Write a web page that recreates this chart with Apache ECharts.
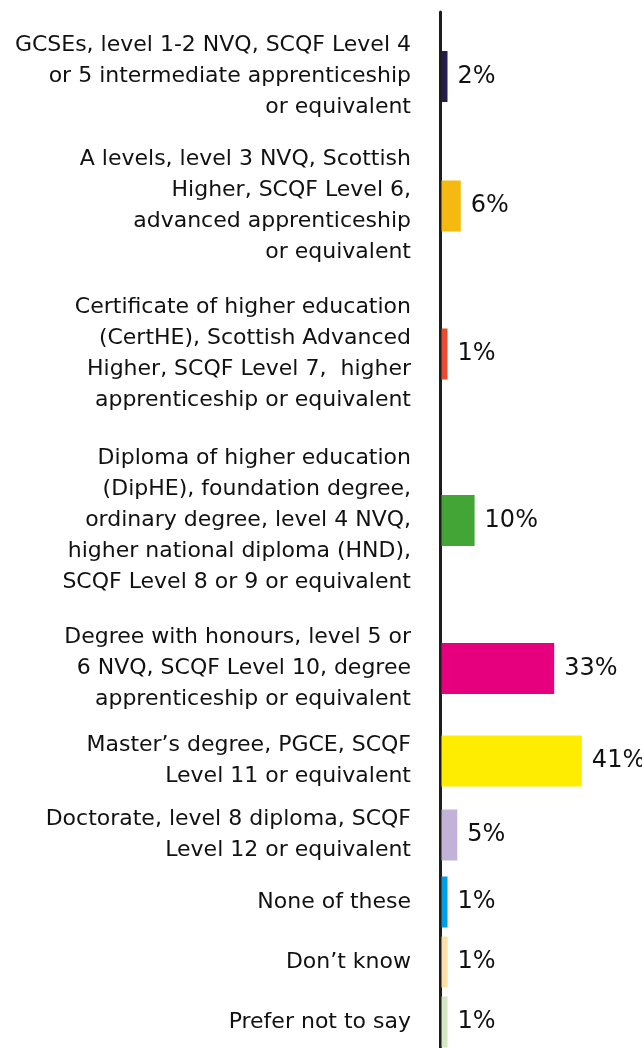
<!DOCTYPE html>
<html>
<head>
<meta charset="utf-8">
<script src="https://cdn.jsdelivr.net/npm/echarts@6/dist/echarts.min.js"></script>
<style>
  html, body { margin: 0; padding: 0; background: #fff; }
  #chart { width: 642px; height: 1048px; }
</style>
</head>
<body>
<div id="chart"></div>
<script>
// categories (line breaks as in the picture)
var categories = [
  'GCSEs, level 1-2 NVQ, SCQF Level 4\nor 5 intermediate apprenticeship\nor equivalent',
  'A levels, level 3 NVQ, Scottish\nHigher, SCQF Level 6,\nadvanced apprenticeship\nor equivalent',
  'Certificate of higher education\n(CertHE), Scottish Advanced\nHigher, SCQF Level 7,  higher\napprenticeship or equivalent',
  'Diploma of higher education\n(DipHE), foundation degree,\nordinary degree, level 4 NVQ,\nhigher national diploma (HND),\nSCQF Level 8 or 9 or equivalent',
  'Degree with honours, level 5 or\n6 NVQ, SCQF Level 10, degree\napprenticeship or equivalent',
  'Master\u2019s degree, PGCE, SCQF\nLevel 11 or equivalent',
  'Doctorate, level 8 diploma, SCQF\nLevel 12 or equivalent',
  'None of these',
  'Don\u2019t know',
  'Prefer not to say'
];
var values = [2, 6, 1, 10, 33, 41, 5, 1, 1, 1];
var colors = ['#241d4a', '#f6b90f', '#e94b30', '#42a535', '#e6007e',
              '#ffed00', '#c2b2d7', '#009fe3', '#fde0a8', '#d5e6c5'];

// each row gets room for its label lines
var rowUnit = 37, rowMin = 60;
var centres = [];
var acc = 0;
categories.forEach(function (c) {
  var h = Math.max(c.split('\n').length * rowUnit, rowMin);
  centres.push(acc + h / 2);
  acc += h;
});

var chart = echarts.init(document.getElementById('chart'));

var option = {
  animation: false,
  grid: { left: 440, top: 12, width: 173, height: 1036 },
  xAxis: { type: 'value', min: 0, max: 50, show: false },
  yAxis: {
    type: 'value',
    min: -9,
    max: 1027,
    inverse: true,
    axisLine: { show: true, lineStyle: { color: '#1d1d1b', width: 3 } },
    axisTick: { show: false },
    axisLabel: { show: false },
    splitLine: { show: false }
  },
  series: [{
    type: 'custom',
    data: values.map(function (v, i) { return [v, centres[i], i]; }),
    encode: { x: 0, y: 1 },
    renderItem: function (params, api) {
      var i = api.value(2);
      var start = api.coord([0, api.value(1)]);
      var end = api.coord([api.value(0), api.value(1)]);
      var h = 51;
      // small bars still get a visible stub, like barMinHeight
      var w = Math.max(end[0] - start[0] - 1.5, 6);
      var right = start[0] + 1.5 + w;
      return {
        type: 'group',
        children: [
          {
            type: 'rect',
            shape: { x: start[0] + 1.5, y: start[1] - h / 2, width: w, height: h },
            style: { fill: colors[i] }
          },
          {
            type: 'text',
            x: right + 10,
            y: end[1],
            style: {
              text: values[i] + '%',
              fill: '#111111',
              fontSize: 24,
              fontFamily: 'DejaVu Sans',
              align: 'left',
              verticalAlign: 'middle'
            }
          },
          {
            type: 'text',
            x: start[0] - 29,
            y: start[1],
            style: {
              text: categories[i],
              fill: '#111111',
              fontSize: 22,
              fontFamily: 'DejaVu Sans',
              lineHeight: 31,
              align: 'right',
              verticalAlign: 'middle'
            }
          }
        ]
      };
    }
  }]
};

chart.setOption(option);
</script>
</body>
</html>
